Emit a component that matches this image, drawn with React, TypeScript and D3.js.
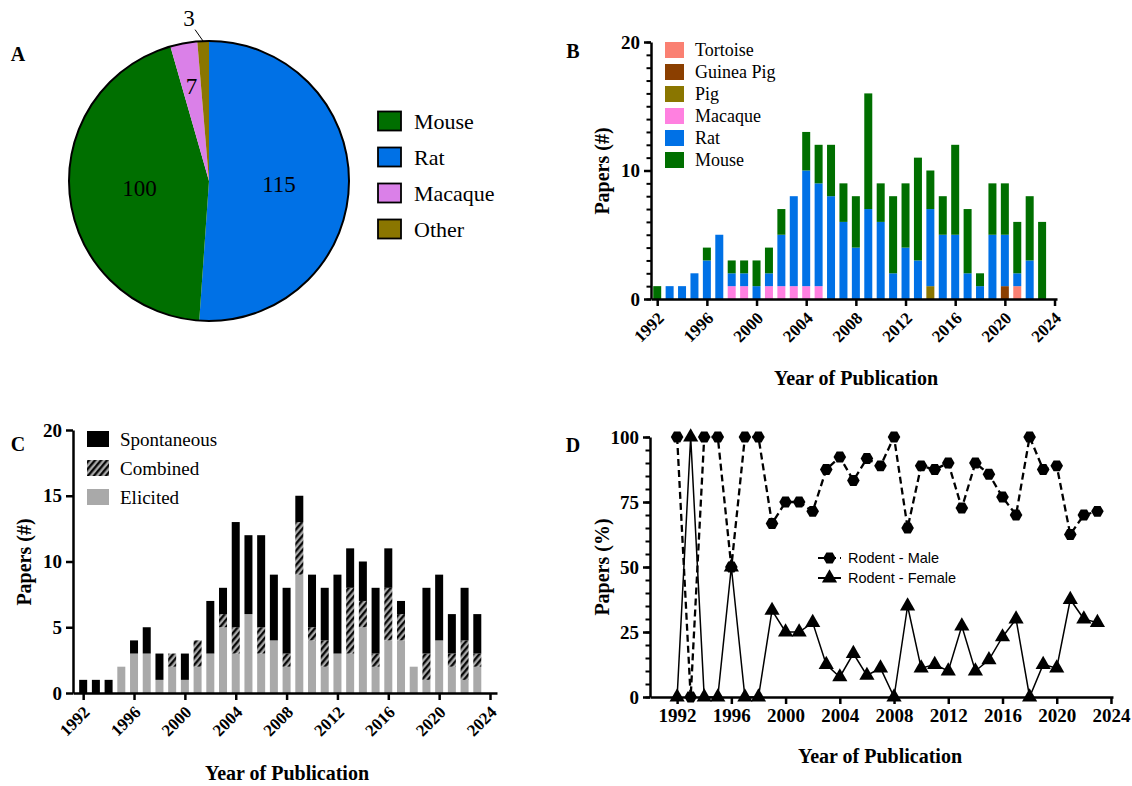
import { useEffect, useRef } from 'react';
import * as d3 from 'd3';

const serif = '"Liberation Serif", "Times New Roman", serif';
const sans = '"Liberation Sans", Arial, sans-serif';

// Panel A - species totals (pie drawn clockwise from 12 o'clock)
const pieSpecies = ['Rat', 'Mouse', 'Macaque', 'Other'];
const pieCounts = [115, 100, 7, 3];
const pieLegend = ['Mouse', 'Rat', 'Macaque', 'Other'];
const pieColors: Record<string, string> = {
  Mouse: '#006f00',
  Rat: '#0071e6',
  Macaque: '#da80e8',
  Other: '#8a7600'
};

// shared year categories for B, C and D
const years = [
  1992, 1993, 1994, 1995, 1996, 1997, 1998, 1999, 2000, 2001, 2002, 2003, 2004, 2005, 2006, 2007,
  2008, 2009, 2010, 2011, 2012, 2013, 2014, 2015, 2016, 2017, 2018, 2019, 2020, 2021, 2022, 2023
];
const yearTicks = [1992, 1996, 2000, 2004, 2008, 2012, 2016, 2020, 2024];

// Panel B - papers per species per year
const speciesKeys = ['Tortoise', 'Guinea Pig', 'Pig', 'Macaque', 'Rat', 'Mouse'];
const speciesColors = ['#fa8072', '#8b3f00', '#8a7600', '#ff80e0', '#0071e6', '#006f00'];
const mouseB = [1, 0, 0, 0, 1, 0, 1, 1, 2, 2, 2, 0, 3, 3, 4, 3, 4, 9, 3, 6, 5, 8, 3, 3, 7, 5, 1, 4, 4, 4, 5, 6];
const ratB = [0, 1, 1, 2, 3, 5, 1, 1, 1, 1, 4, 7, 9, 8, 8, 6, 4, 7, 6, 2, 4, 3, 6, 5, 5, 2, 1, 5, 4, 1, 3, 0];
const macaqueB = [0, 0, 0, 0, 0, 0, 1, 1, 0, 1, 1, 1, 1, 1, 0, 0, 0, 0, 0, 0, 0, 0, 0, 0, 0, 0, 0, 0, 0, 0, 0, 0];
const pigB = [0, 0, 0, 0, 0, 0, 0, 0, 0, 0, 0, 0, 0, 0, 0, 0, 0, 0, 0, 0, 0, 0, 1, 0, 0, 0, 0, 0, 0, 0, 0, 0];
const guineaPigB = [0, 0, 0, 0, 0, 0, 0, 0, 0, 0, 0, 0, 0, 0, 0, 0, 0, 0, 0, 0, 0, 0, 0, 0, 0, 0, 0, 0, 1, 0, 0, 0];
const tortoiseB = [0, 0, 0, 0, 0, 0, 0, 0, 0, 0, 0, 0, 0, 0, 0, 0, 0, 0, 0, 0, 0, 0, 0, 0, 0, 0, 0, 0, 0, 1, 0, 0];

// Panel C - papers per method per year
const methodKeys = ['Elicited', 'Combined', 'Spontaneous'];
const legendC = ['Spontaneous', 'Combined', 'Elicited'];
const elicitedC = [0, 0, 0, 2, 3, 3, 1, 2, 1, 2, 3, 5, 3, 6, 3, 4, 2, 9, 4, 2, 3, 3, 5, 2, 4, 4, 2, 1, 4, 2, 1, 2];
const combinedC = [0, 0, 0, 0, 0, 0, 0, 1, 0, 2, 0, 1, 2, 0, 2, 0, 1, 4, 1, 2, 0, 5, 2, 1, 4, 2, 0, 2, 0, 1, 3, 1];
const spontaneousC = [1, 1, 1, 0, 1, 2, 2, 0, 2, 0, 4, 2, 8, 6, 7, 5, 5, 2, 4, 4, 6, 3, 3, 5, 3, 1, 0, 5, 5, 3, 4, 3];

// Panel D - % of rodent papers by sex
const maleD = [100, 0, 100, 100, 50, 100, 100, 66.7, 75, 75, 71.4, 87.5, 92.3, 83.3, 91.7, 88.9,
  100, 65, 88.9, 87.5, 90, 72.7, 90, 85.7, 76.9, 70, 100, 87.5, 88.9, 62.5, 70, 71.4];
const femaleD = [0, 100, 0, 0, 50, 0, 0, 33.3, 25, 25, 28.6, 12.5, 7.7, 16.7, 8.3, 11.1,
  0, 35, 11.1, 12.5, 10, 27.3, 10, 14.3, 23.1, 30, 0, 12.5, 11.1, 37.5, 30, 28.6];

const App = () => {
  const ref = useRef<SVGSVGElement>(null);

  useEffect(() => {
    const svg = d3.select(ref.current);
    svg.selectAll('*').remove();

    const defs = svg.append('defs');
    const pat = defs.append('pattern')
      .attr('id', 'hatch')
      .attr('patternUnits', 'userSpaceOnUse')
      .attr('width', 4.6)
      .attr('height', 4.6)
      .attr('patternTransform', 'rotate(40)');
    pat.append('rect').attr('width', 4.6).attr('height', 4.6).attr('fill', '#a9a9a9');
    pat.append('line').attr('x1', 1.2).attr('y1', 0).attr('x2', 1.2).attr('y2', 4.6)
      .attr('stroke', '#000').attr('stroke-width', 2.2);

    const styleAxis = (g: any, size = 19) => {
      g.attr('font-family', serif).attr('font-size', size).attr('font-weight', 'bold');
      g.select('.domain').attr('stroke', '#000').attr('stroke-width', 2.5);
      g.selectAll('.tick line').attr('stroke', '#000').attr('stroke-width', 2.5);
      g.selectAll('.tick text').attr('fill', '#000');
    };
    const minorAxis = (g: any) => {
      g.select('.domain').remove();
      g.selectAll('.tick line').attr('stroke', '#000').attr('stroke-width', 2);
    };
    const title = (x: number, y: number, text: string, rotate = false, size = 20) => {
      svg.append('text')
        .attr('transform', rotate ? `translate(${x},${y}) rotate(-90)` : `translate(${x},${y})`)
        .attr('text-anchor', 'middle')
        .attr('font-family', serif)
        .attr('font-size', size)
        .attr('font-weight', 'bold')
        .text(text);
    };

    // panel letters
    title(18, 61, 'A');
    title(573, 58, 'B');
    title(18, 451, 'C');
    title(573, 452, 'D');

    // ---------- A: pie ----------
    const R = 140;
    const pieG = svg.append('g').attr('transform', 'translate(209,181)');
    const arcs = d3.pie<number>().sort(null)(pieCounts);
    const arc = d3.arc<any>().innerRadius(0).outerRadius(R);
    pieG.selectAll('path.slice').data(arcs).join('path')
      .attr('class', 'slice')
      .attr('d', arc)
      .attr('fill', (_d, i) => pieColors[pieSpecies[i]]);
    pieG.append('circle').attr('r', R).attr('fill', 'none').attr('stroke', '#000').attr('stroke-width', 2);

    const inner = d3.arc<any>().innerRadius(0).outerRadius(R);
    const mid = d3.arc<any>().innerRadius(97).outerRadius(97);
    const outer = d3.arc<any>().innerRadius(164).outerRadius(164);
    const edge = d3.arc<any>().innerRadius(R).outerRadius(R);
    const near = d3.arc<any>().innerRadius(152).outerRadius(152);
    arcs.forEach((a, i) => {
      let p = inner.centroid(a);
      if (i === 2) p = mid.centroid(a);
      if (i === 3) {
        const o = { ...a, startAngle: a.startAngle - 0.08, endAngle: a.endAngle - 0.08 };
        p = outer.centroid(o);
        const e = edge.centroid(a);
        const n = near.centroid({ ...a, startAngle: a.startAngle - 0.05, endAngle: a.endAngle - 0.05 });
        pieG.append('line').attr('x1', e[0]).attr('y1', e[1]).attr('x2', n[0]).attr('y2', n[1])
          .attr('stroke', '#000').attr('stroke-width', 1);
      }
      pieG.append('text')
        .attr('x', p[0]).attr('y', p[1]).attr('dy', '0.35em')
        .attr('text-anchor', 'middle')
        .attr('font-family', serif).attr('font-size', 23)
        .text(pieCounts[i]);
    });

    const legA = svg.append('g').attr('transform', 'translate(378,121)');
    pieLegend.forEach((name, i) => {
      const row = legA.append('g').attr('transform', `translate(0,${i * 36})`);
      row.append('rect').attr('x', 0).attr('y', -9.5).attr('width', 23).attr('height', 19)
        .attr('fill', pieColors[name]).attr('stroke', '#000').attr('stroke-width', 1.8);
      row.append('text').attr('x', 36).attr('dy', '0.35em')
        .attr('font-family', serif).attr('font-size', 22).text(name);
    });

    // ---------- B: stacked species bars ----------
    const xB = d3.scaleLinear().domain([1991.5, 2024.2]).range([651, 1057]);
    const yB = d3.scaleLinear().domain([0, 20]).range([299, 42]);
    const rowsB = years.map((yr, i) => ({
      year: yr,
      Tortoise: tortoiseB[i],
      'Guinea Pig': guineaPigB[i],
      Pig: pigB[i],
      Macaque: macaqueB[i],
      Rat: ratB[i],
      Mouse: mouseB[i]
    }));
    const stackB = d3.stack<any>().keys(speciesKeys)(rowsB);
    const barsB = svg.append('g');
    stackB.forEach((layer, k) => {
      barsB.selectAll(null).data(layer.filter((d) => d[1] > d[0])).join('rect')
        .attr('x', (d: any) => xB(d.data.year) - 4)
        .attr('width', 8)
        .attr('y', (d: any) => yB(d[1]))
        .attr('height', (d: any) => yB(d[0]) - yB(d[1]))
        .attr('fill', speciesColors[k]);
    });

    const gBy = svg.append('g').attr('transform', 'translate(651,0)');
    gBy.append('g').call(d3.axisLeft(yB).tickValues(d3.range(0, 21)).tickSize(4.5).tickFormat(() => '')).call(minorAxis);
    const gByM = gBy.append('g').call(d3.axisLeft(yB).tickValues([0, 10, 20]).tickSize(7).tickSizeOuter(0).tickPadding(4));
    styleAxis(gByM);

    const gBx = svg.append('g').attr('transform', 'translate(0,299)')
      .call(d3.axisBottom(xB).tickValues(yearTicks).tickSize(7).tickSizeOuter(0).tickFormat(d3.format('d')));
    styleAxis(gBx, 17);
    gBx.selectAll('.tick text')
      .attr('x', 0).attr('y', 0).attr('dy', '0.35em')
      .attr('text-anchor', 'end')
      .attr('transform', 'translate(3,16) rotate(-45)');

    title(856, 385, 'Year of Publication');
    title(609, 171, 'Papers (#)', true);

    const legB = svg.append('g').attr('transform', 'translate(665,50)');
    [...speciesKeys].forEach((name, i) => {
      const row = legB.append('g').attr('transform', `translate(0,${i * 22})`);
      row.append('rect').attr('y', -8).attr('width', 19).attr('height', 16).attr('fill', speciesColors[i]);
      row.append('text').attr('x', 30).attr('dy', '0.35em')
        .attr('font-family', serif).attr('font-size', 18).text(name);
    });

    // ---------- C: stacked method bars ----------
    const xC = d3.scaleLinear().domain([1991.2, 2024.55]).range([73, 497]);
    const yC = d3.scaleLinear().domain([0, 20]).range([693, 430]);
    const rowsC = years.map((yr, i) => ({
      year: yr,
      Elicited: elicitedC[i],
      Combined: combinedC[i],
      Spontaneous: spontaneousC[i]
    }));
    const fillC: Record<string, string> = { Elicited: '#a9a9a9', Combined: 'url(#hatch)', Spontaneous: '#000' };
    const stackC = d3.stack<any>().keys(methodKeys)(rowsC);
    const barsC = svg.append('g');
    stackC.forEach((layer) => {
      barsC.selectAll(null).data(layer.filter((d) => d[1] > d[0])).join('rect')
        .attr('x', (d: any) => xC(d.data.year) - 4)
        .attr('width', 8)
        .attr('y', (d: any) => yC(d[1]))
        .attr('height', (d: any) => yC(d[0]) - yC(d[1]))
        .attr('fill', fillC[layer.key]);
    });

    const gCy = svg.append('g').attr('transform', 'translate(73,0)')
      .call(d3.axisLeft(yC).tickValues([0, 5, 10, 15, 20]).tickSize(7).tickSizeOuter(0).tickPadding(4));
    styleAxis(gCy);
    const gCx = svg.append('g').attr('transform', 'translate(0,693)')
      .call(d3.axisBottom(xC).tickValues(yearTicks).tickSize(7).tickSizeOuter(0).tickFormat(d3.format('d')));
    styleAxis(gCx, 17);
    gCx.selectAll('.tick text')
      .attr('x', 0).attr('y', 0).attr('dy', '0.35em')
      .attr('text-anchor', 'end')
      .attr('transform', 'translate(3,16) rotate(-45)');

    title(287, 780, 'Year of Publication');
    title(31, 562, 'Papers (#)', true);

    const legC = svg.append('g').attr('transform', 'translate(87,439)');
    legendC.forEach((name, i) => {
      const row = legC.append('g').attr('transform', `translate(0,${i * 29})`);
      row.append('rect').attr('y', -8).attr('width', 22).attr('height', 16).attr('fill', fillC[name]);
      row.append('text').attr('x', 33).attr('dy', '0.35em')
        .attr('font-family', serif).attr('font-size', 19).text(name);
    });

    // ---------- D: % by sex lines ----------
    const xD = d3.scaleLinear().domain([1990, 2024.15]).range([650, 1113]);
    const yD = d3.scaleLinear().domain([0, 100]).range([697, 437]);
    const hex = (r: number) =>
      d3.line()([0, 1, 2, 3, 4, 5].map((k) => [r * Math.cos((Math.PI / 3) * k), r * Math.sin((Math.PI / 3) * k)] as [number, number])) + 'Z';
    const tri = d3.symbol(d3.symbolTriangle, 100)();

    const lineD = d3.line<number>().x((_d, i) => xD(years[i])).y((d) => yD(d));
    svg.append('path').attr('d', lineD(maleD)).attr('fill', 'none')
      .attr('stroke', '#000').attr('stroke-width', 2.3).attr('stroke-dasharray', '7,4');
    svg.append('path').attr('d', lineD(femaleD)).attr('fill', 'none')
      .attr('stroke', '#000').attr('stroke-width', 1.5);
    svg.append('g').selectAll('path').data(maleD).join('path')
      .attr('transform', (d, i) => `translate(${xD(years[i])},${yD(d)})`)
      .attr('d', hex(6.3)).attr('fill', '#000');
    svg.append('g').selectAll('path').data(femaleD).join('path')
      .attr('transform', (d, i) => `translate(${xD(years[i])},${yD(d)})`)
      .attr('d', tri).attr('fill', '#000');

    const gDy = svg.append('g').attr('transform', 'translate(650,0)');
    gDy.append('g').call(d3.axisLeft(yD).tickValues(d3.range(0, 101, 5)).tickSize(4.5).tickFormat(() => '')).call(minorAxis);
    const gDyM = gDy.append('g').call(d3.axisLeft(yD).tickValues([0, 25, 50, 75, 100]).tickSize(7).tickSizeOuter(0).tickPadding(4));
    styleAxis(gDyM);
    const gDx = svg.append('g').attr('transform', 'translate(0,697)')
      .call(d3.axisBottom(xD).tickValues(yearTicks).tickSize(7).tickSizeOuter(0).tickPadding(5).tickFormat(d3.format('d')));
    styleAxis(gDx);

    title(880, 763, 'Year of Publication');
    title(609, 567, 'Papers (%)', true);

    const legD = svg.append('g').attr('transform', 'translate(818,558)');
    const legDRows = [
      { name: 'Rodent - Male', shape: hex(6.3), dash: '7,4' },
      { name: 'Rodent - Female', shape: tri, dash: null }
    ];
    legDRows.forEach((r, i) => {
      const row = legD.append('g').attr('transform', `translate(0,${i * 20})`);
      row.append('line').attr('x1', 0).attr('x2', 23).attr('stroke', '#000').attr('stroke-width', 2)
        .attr('stroke-dasharray', r.dash);
      row.append('path').attr('transform', 'translate(11.5,0)').attr('d', r.shape).attr('fill', '#000');
      row.append('text').attr('x', 30).attr('dy', '0.35em')
        .attr('font-family', sans).attr('font-size', 14.5).text(r.name);
    });
  }, []);

  return (
    <div style={{ position: 'absolute', left: 0, top: 0 }}>
      <svg ref={ref} width={1132} height={786} style={{ display: 'block', background: '#fff' }} />
    </div>
  );
};

export default App;
